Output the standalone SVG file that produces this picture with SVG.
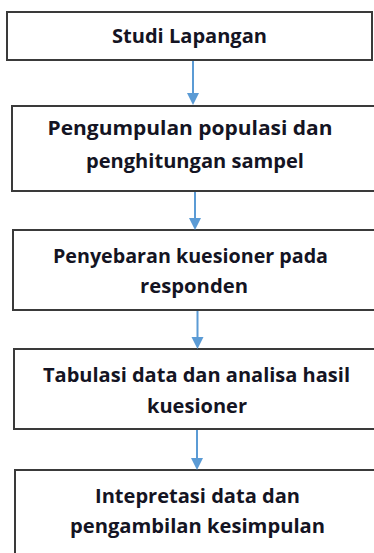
<svg xmlns="http://www.w3.org/2000/svg" width="374" height="553" viewBox="0 0 374 553">
<style>
.box{fill:#fff;stroke:#3a3a3a;stroke-width:2}
.lbl{font-family:"Open Sans","Noto Sans","Liberation Sans",sans-serif;font-weight:bold;font-size:19.5px;fill:#141423;text-anchor:middle}
.conn{stroke:#5b9bd5;stroke-width:2;fill:none}
.head{fill:#5b9bd5}
</style>
<rect width="374" height="553" fill="#fff"/>
<g id="n1">
<rect class="box" x="7" y="12" width="365" height="48"/>
<text class="lbl" x="189.5" y="43" textLength="155" lengthAdjust="spacingAndGlyphs">Studi Lapangan</text>
</g>
<g id="n2">
<rect class="box" x="12" y="106" width="370" height="85"/>
<text class="lbl" x="190" y="135" textLength="285" lengthAdjust="spacingAndGlyphs">Pengumpulan populasi dan</text>
<text class="lbl" x="195" y="168" textLength="218" lengthAdjust="spacingAndGlyphs">penghitungan sampel</text>
</g>
<g id="n3">
<rect class="box" x="13" y="230" width="370" height="80"/>
<text class="lbl" x="190.5" y="263" textLength="275" lengthAdjust="spacingAndGlyphs">Penyebaran kuesioner pada</text>
<text class="lbl" x="194" y="293" textLength="108" lengthAdjust="spacingAndGlyphs">responden</text>
</g>
<g id="n4">
<rect class="box" x="14" y="349" width="370" height="80"/>
<text class="lbl" x="196.5" y="382" textLength="307" lengthAdjust="spacingAndGlyphs">Tabulasi data dan analisa hasil</text>
<text class="lbl" x="197" y="413" textLength="100" lengthAdjust="spacingAndGlyphs">kuesioner</text>
</g>
<g id="n5">
<rect class="box" x="15" y="470" width="370" height="100"/>
<text class="lbl" x="197.5" y="503" textLength="205" lengthAdjust="spacingAndGlyphs">Intepretasi data dan</text>
<text class="lbl" x="197.5" y="533" textLength="255" lengthAdjust="spacingAndGlyphs">pengambilan kesimpulan</text>
</g>
<g id="connectors">
<line class="conn" x1="193" y1="61" x2="193" y2="94"/>
<path class="head" d="M187,93 L199,93 L193,105 Z"/>
<line class="conn" x1="195" y1="192" x2="195" y2="219"/>
<path class="head" d="M189,218 L201,218 L195,230 Z"/>
<line class="conn" x1="197.5" y1="311" x2="197.5" y2="338"/>
<path class="head" d="M191.5,337 L203.5,337 L197.5,349 Z"/>
<line class="conn" x1="197" y1="430" x2="197" y2="459"/>
<path class="head" d="M191,458 L203,458 L197,470 Z"/>
</g>
</svg>
